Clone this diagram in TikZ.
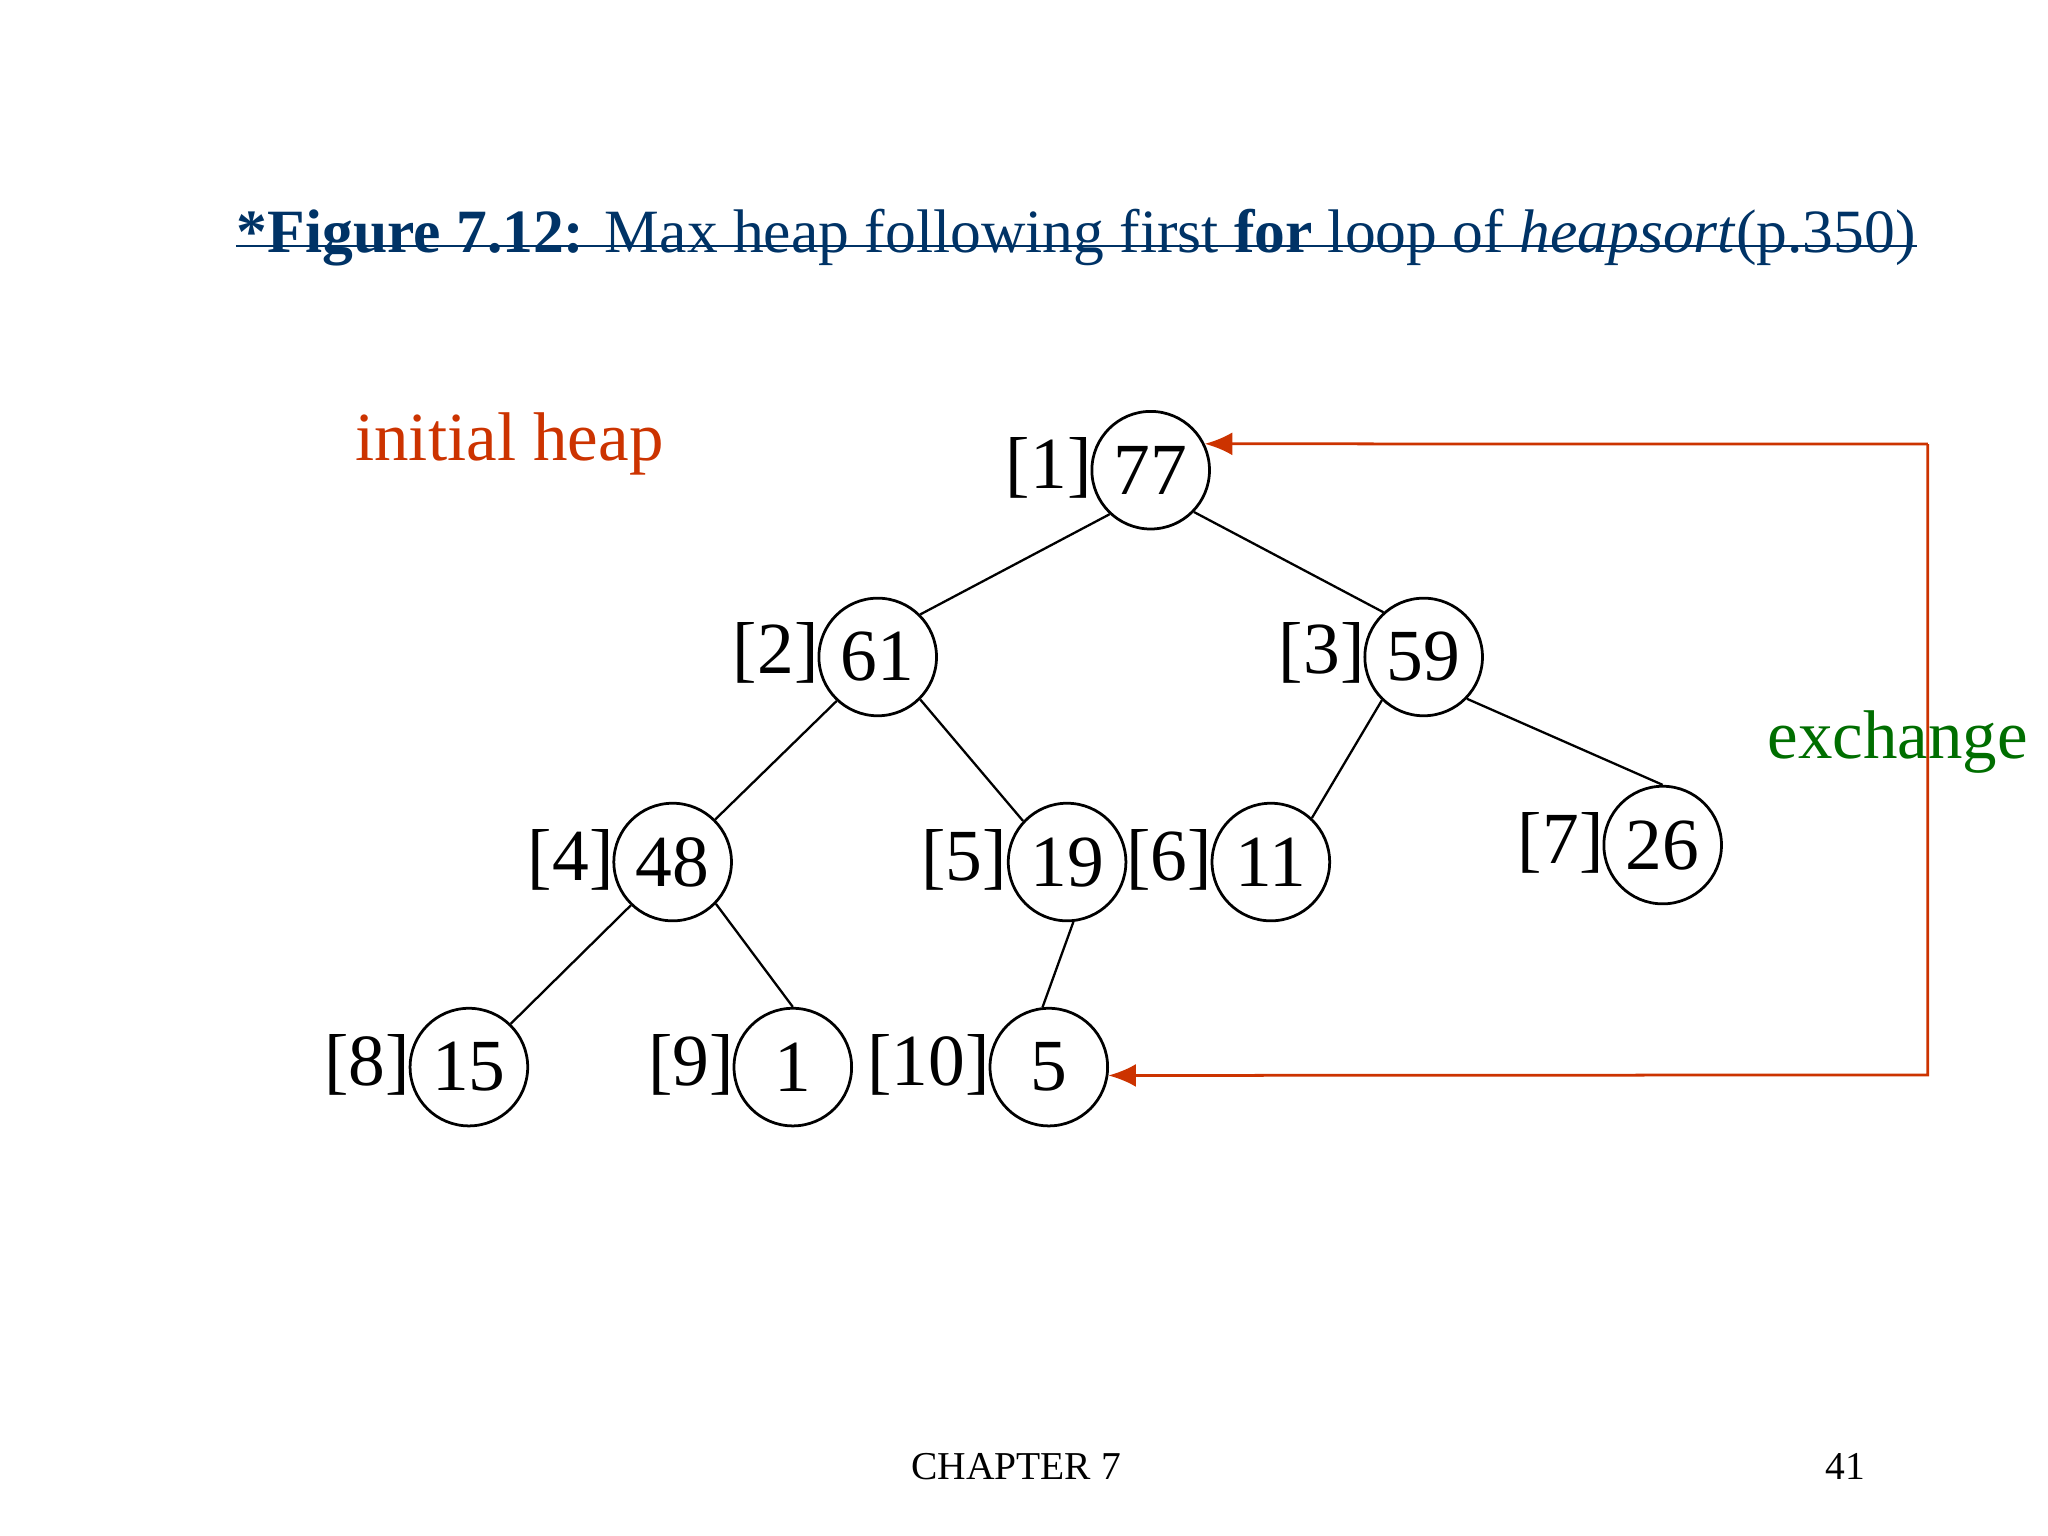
\documentclass[tikz,border=0pt]{standalone}
\usepackage{fontspec}
\setmainfont{Liberation Serif}
\usetikzlibrary{arrows.meta}
\definecolor{navy}{RGB}{0,51,102}
\definecolor{redo}{RGB}{204,51,0}
\definecolor{dgreen}{RGB}{0,110,0}
\begin{document}
\begin{tikzpicture}[x=0.01cm,y=-0.01cm,
  hn/.style={circle,draw,line width=0.6pt,minimum size=0.9cm,inner sep=0pt,font=\fontsize{16}{16}\selectfont},
  lab/.style={font=\fontsize{16}{16}\selectfont},
  ed/.style={line width=0.5pt},
  ex/.style={redo,line width=0.6pt}]
\useasboundingbox (0,0) rectangle (1568,1176);
\node[font=\fontsize{13.4}{13.4}\selectfont,text=navy,inner sep=0pt] (title) at (824,182) {\textbf{*Figure 7.12:} Max heap following first \textbf{for} loop of \textit{heapsort}(p.350)};
\draw[navy,line width=0.6pt] (title.base west)++(0,-5) coordinate (u1) -- (title.base east |- u1);
\node[font=\fontsize{15}{15}\selectfont,text=redo] (ih) at (390,340) {initial heap};
\node[font=\fontsize{15}{15}\selectfont,text=dgreen] (exl) at (1453,568) {exchange};
\node[font=\fontsize{8.6}{8.6}\selectfont] (ch) at (778,1123) {CHAPTER 7};
\node[font=\fontsize{8.6}{8.6}\selectfont] (pg) at (1413,1123) {41};
\node[hn] (n1) at (881,360) {77};
\node[hn] (n2) at (672,503) {61};
\node[hn] (n3) at (1090,503) {59};
\node[hn] (n4) at (515,660) {48};
\node[hn] (n5) at (817,660) {19};
\node[hn] (n6) at (973,660) {11};
\node[hn] (n7) at (1273,647) {26};
\node[hn] (n8) at (359,817) {15};
\node[hn] (n9) at (607,817) {1};
\node[hn] (n10) at (803,817) {5};
\node[lab] (l1) at (803,358) {[1]};
\node[lab] (l2) at (594,500) {[2]};
\node[lab] (l3) at (1012,500) {[3]};
\node[lab] (l4) at (437,658) {[4]};
\node[lab] (l5) at (738,658) {[5]};
\node[lab] (l6) at (895,658) {[6]};
\node[lab] (l7) at (1195,645) {[7]};
\node[lab] (l8) at (281,815) {[8]};
\node[lab] (l9) at (529,815) {[9]};
\node[lab] (l10) at (711,815) {[10]};
\draw[ed] (n1.227)--(n2.45); \draw[ed] (n1.316)--(n3.132);
\draw[ed] (n2.227)--(n4.45); \draw[ed] (n2.315)--(n5.137);
\draw[ed] (n3.226)--(n6.47); \draw[ed] (n3.316)--(n7.north);
\draw[ed] (n4.226)--(n8.46); \draw[ed] (n4.316)--(n9.north);
\draw[ed] (n5.-84)--(n10.96);
\coordinate (c1) at (1476,340);
\coordinate (c2) at (1476,823);
\draw[ex,-{Latex[length=6pt,width=5pt]}] (c1) -- (n1.26);
\draw[ex,-{Latex[length=6pt,width=5pt]}] (c1) -- (c2) -- (n10.-8);
\end{tikzpicture}
\end{document}
